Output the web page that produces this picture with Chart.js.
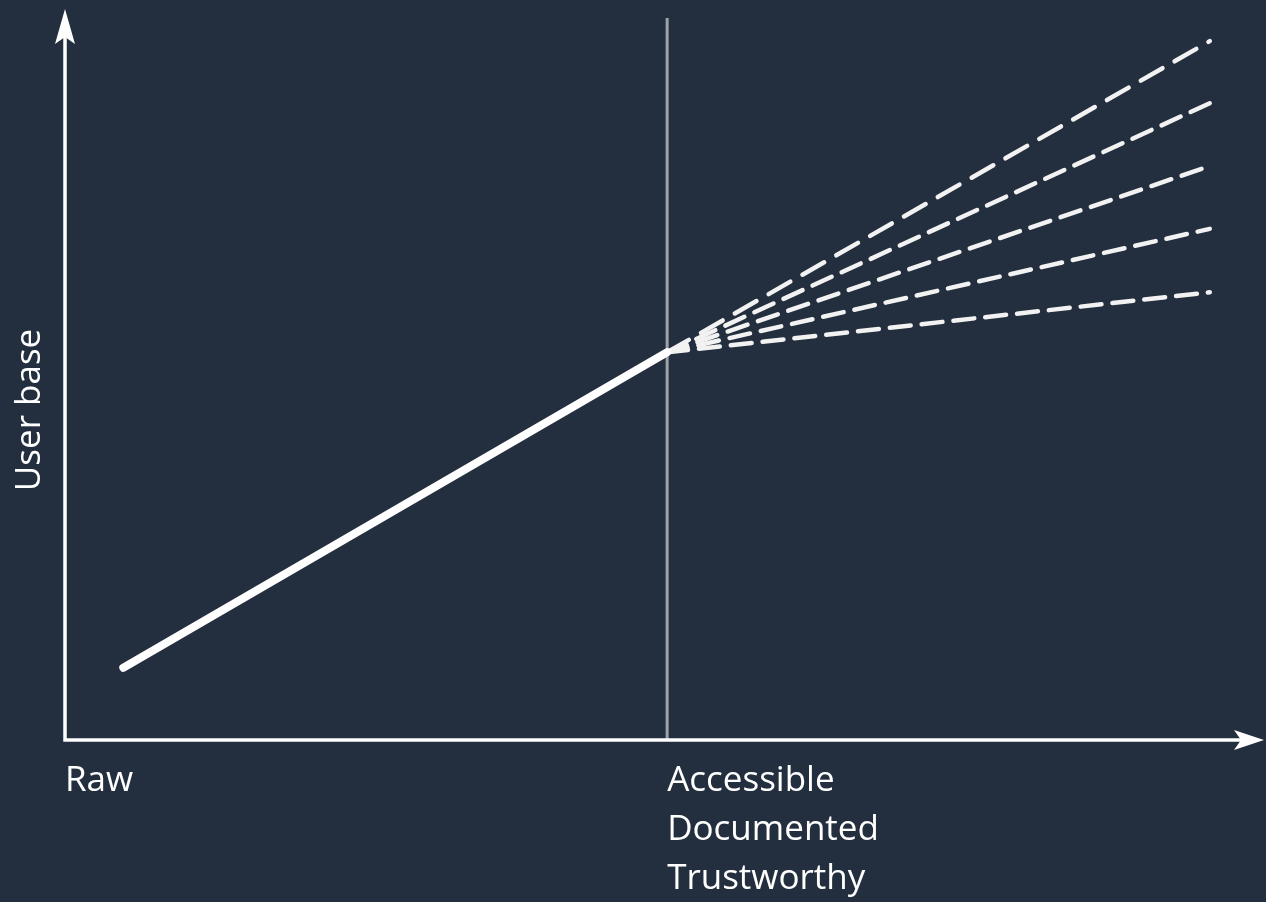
<!DOCTYPE html>
<html>
<head>
<meta charset="utf-8">
<script src="https://cdn.jsdelivr.net/npm/chart.js@4"></script>
<style>
  html, body { margin: 0; padding: 0; background: #232f3e; }
  #wrap { width: 1266px; height: 902px; }
</style>
</head>
<body>
<div id="wrap"><canvas id="c" width="1266" height="902"></canvas></div>
<script>
// ---- data ----
const stageX = [4.9, 50.6];           // Raw -> Accessible stage
const userBase = [10, 53.7];          // user base along the path
const projectionEndX = 96.2;
const projections = [96.8, 88.2, 79.5, 70.8, 62.0];
const tickValues = [0, 50.6];
const tickLabels = ['Raw', ['Accessible', 'Documented', 'Trustworthy']];
const yTitle = 'User base';

const BG = '#232f3e';
const FONT = "'Open Sans', 'DejaVu Sans', sans-serif";

const solidData = stageX.map((x, i) => ({ x, y: userBase[i] }));
const datasets = [{
  data: solidData,
  borderColor: '#ffffff',
  borderWidth: 8,
  borderCapStyle: 'round',
  pointRadius: 0,
  tension: 0,
  order: 0
}];
projections.forEach((y, i) => {
  datasets.push({
    data: [{ x: stageX[1], y: userBase[1] }, { x: projectionEndX, y }],
    borderColor: '#f2f2f2',
    borderWidth: 4.5,
    borderDash: i === 0 ? [25, 14] : [21, 11],
    borderCapStyle: 'round',
    pointRadius: 0,
    tension: 0,
    order: 1
  });
});

const decor = {
  id: 'decor',
  beforeDatasetsDraw(chart) {
    const { ctx, chartArea: a, scales: { x } } = chart;
    ctx.save();
    // stage divider
    const vx = x.getPixelForValue(stageX[1]);
    ctx.strokeStyle = '#9ea3aa';
    ctx.lineWidth = 3;
    ctx.beginPath();
    ctx.moveTo(vx, a.top);
    ctx.lineTo(vx, a.bottom);
    ctx.stroke();
    // axes
    ctx.strokeStyle = '#ffffff';
    ctx.fillStyle = '#ffffff';
    ctx.lineWidth = 3.5;
    ctx.beginPath();
    ctx.moveTo(a.left, 30);
    ctx.lineTo(a.left, a.bottom);
    ctx.lineTo(1245, a.bottom);
    ctx.stroke();
    // y arrow
    const tipY = 9;
    ctx.beginPath();
    ctx.moveTo(a.left, tipY);
    ctx.lineTo(a.left + 10, tipY + 35);
    ctx.lineTo(a.left, tipY + 28);
    ctx.lineTo(a.left - 10, tipY + 35);
    ctx.closePath();
    ctx.fill();
    // x arrow
    const tipX = 1264;
    ctx.beginPath();
    ctx.moveTo(tipX, a.bottom);
    ctx.lineTo(tipX - 30, a.bottom - 10);
    ctx.lineTo(tipX - 23, a.bottom);
    ctx.lineTo(tipX - 30, a.bottom + 10);
    ctx.closePath();
    ctx.fill();
    // y title
    ctx.translate(30, (a.top + a.bottom) / 2 + 31);
    ctx.rotate(-Math.PI / 2);
    ctx.font = '35px ' + FONT;
    ctx.textAlign = 'center';
    ctx.textBaseline = 'middle';
    ctx.fillText(yTitle, 0, 0);
    ctx.restore();
  }
};

new Chart(document.getElementById('c'), {
  type: 'line',
  data: { datasets },
  options: {
    responsive: false,
    animation: false,
    events: [],
    layout: { padding: { left: 65, right: 11, top: 18, bottom: 0 } },
    plugins: { legend: { display: false }, tooltip: { enabled: false } },
    scales: {
      x: {
        type: 'linear',
        min: 0,
        max: 100,
        grid: { display: false, drawTicks: false },
        border: { display: false },
        afterBuildTicks(scale) { scale.ticks = tickValues.map(v => ({ value: v })); },
        afterFit(scale) { scale.height = 162; },
        ticks: {
          align: 'start',
          padding: 17,
          color: '#ffffff',
          font: { family: FONT, size: 35, lineHeight: 1.4 },
          callback(value, index) { return tickLabels[index]; }
        }
      },
      y: {
        type: 'linear',
        min: 0,
        max: 100,
        display: false
      }
    }
  },
  plugins: [decor]
});
</script>
</body>
</html>
